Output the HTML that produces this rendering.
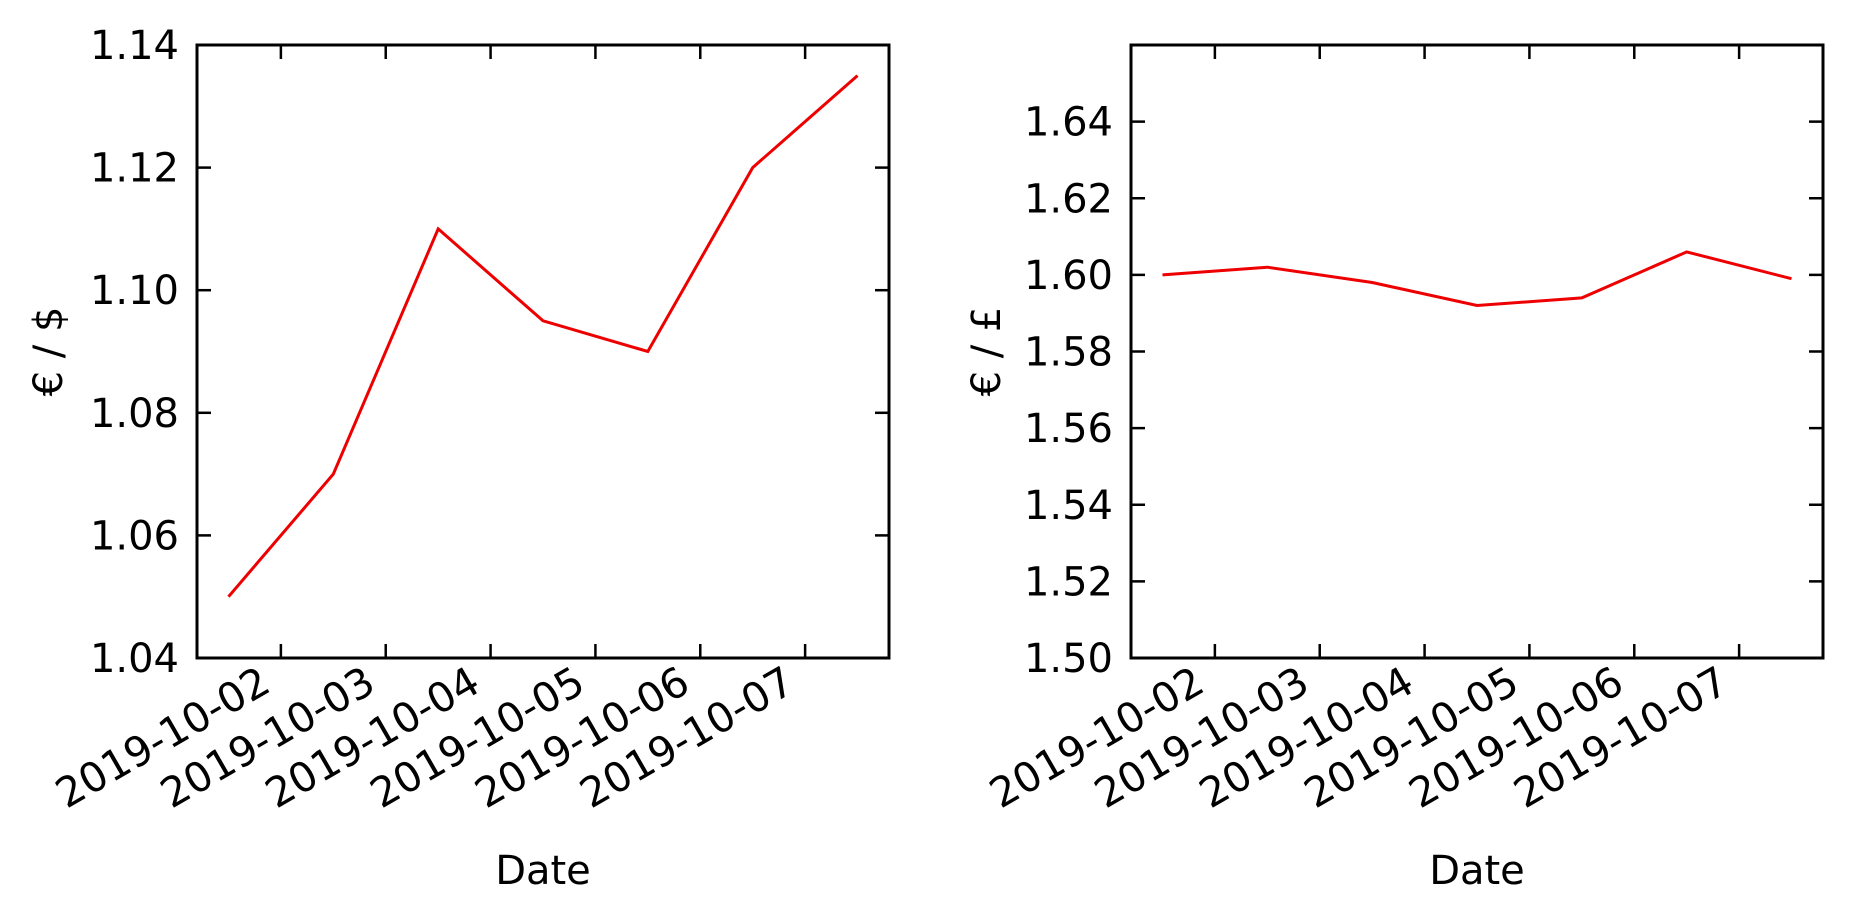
<!DOCTYPE html>
<html><head><meta charset="utf-8"><style>
html,body{margin:0;padding:0;background:#fff;}
svg{display:block;font-family:"DejaVu Sans","Liberation Sans",sans-serif;}
</style></head><body>
<svg id="fig" width="1853" height="919" viewBox="0 0 1853 919"></svg>
<script>
const dates = ["2019-10-01 12:00","2019-10-02 12:00","2019-10-03 12:00","2019-10-04 12:00","2019-10-05 12:00","2019-10-06 12:00","2019-10-07 12:00"];
const usdValues = [1.05, 1.07, 1.11, 1.095, 1.09, 1.12, 1.135];
const gbpValues = [1.600, 1.602, 1.598, 1.592, 1.594, 1.606, 1.599];
const xTickLabels = ["2019-10-02","2019-10-03","2019-10-04","2019-10-05","2019-10-06","2019-10-07"];
const usdTicks = [1.04, 1.06, 1.08, 1.10, 1.12, 1.14];
const gbpTicks = [1.50, 1.52, 1.54, 1.56, 1.58, 1.60, 1.62, 1.64];

const NS = "http://www.w3.org/2000/svg";
const svg = document.getElementById("fig");
function mk(tag, attrs, parent){const e=document.createElementNS(NS,tag);for(const k in attrs)e.setAttribute(k,attrs[k]);(parent||svg).appendChild(e);return e;}
function dayNum(s){return Date.parse(s.replace(" ","T")+"Z")/86400000;}

function panel(id, left, values, yTicks, ymin, ymax, ylabel, ylabelX, dec){
  const top=45, bottom=658, width=692, right=left+width;
  const g = mk("g",{});
  
  
  const xs = dates.map(dayNum);
  const x0 = xs[0]-0.3, x1 = xs[xs.length-1]+0.3;
  const X = d => left + (d-x0)/(x1-x0)*width;
  const Y = v => bottom - (v-ymin)/(ymax-ymin)*(bottom-top);
  const pts = values.map((v,i)=>X(xs[i]).toFixed(1)+","+Y(v).toFixed(1)).join(" ");
  const pl = mk("polyline",{points:pts,fill:"none",stroke:"#ee0000","stroke-width":3,"stroke-linejoin":"miter"},g);
  
  
  xTickLabels.forEach(lbl=>{
    const tx = X(dayNum(lbl+" 00:00"));
    mk("line",{x1:tx,y1:bottom,x2:tx,y2:bottom-14,stroke:"#000","stroke-width":2.5},g);
    mk("line",{x1:tx,y1:top,x2:tx,y2:top+14,stroke:"#000","stroke-width":2.5},g);
    const bx = tx-8, by = 690;
    const t = mk("text",{x:bx,y:by,"text-anchor":"end","font-size":41,transform:`rotate(-30 ${bx} ${by})`},g);
    t.textContent = lbl;
    
    
  });
  yTicks.forEach(v=>{
    const ty = Y(v);
    mk("line",{x1:left,y1:ty,x2:left+14,y2:ty,stroke:"#000","stroke-width":2.5},g);
    mk("line",{x1:right,y1:ty,x2:right-14,y2:ty,stroke:"#000","stroke-width":2.5},g);
    const t = mk("text",{x:left-18,y:ty+14,"text-anchor":"end","font-size":40},g);
    t.textContent = v.toFixed(dec);
    
    
  });
  const fr = mk("rect",{x:left,y:top,width:width,height:bottom-top,fill:"none",stroke:"#000","stroke-width":3},g);
  
  
  const xl = mk("text",{x:left+width/2,y:884,"text-anchor":"middle","font-size":40},g);
  xl.textContent = "Date";
  
  
  const cy=(top+bottom)/2;
  const yl = mk("text",{x:ylabelX,y:cy,"text-anchor":"middle","font-size":40,transform:`rotate(-90 ${ylabelX} ${cy})`},g);
  yl.textContent = ylabel;
  
  
}
panel("usd", 197, usdValues, usdTicks, 1.04, 1.14, "€ / $", 62, 2);
panel("gbp", 1131, gbpValues, gbpTicks, 1.50, 1.66, "€ / £", 1000, 2);
</script>
</body></html>
